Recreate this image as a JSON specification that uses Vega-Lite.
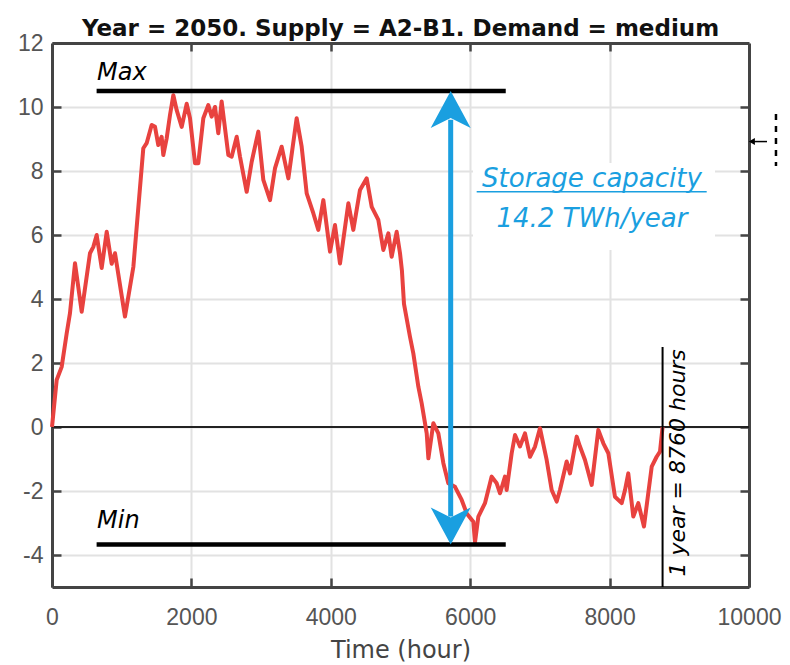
{
  "$schema": "https://vega.github.io/schema/vega-lite/v6.json",
  "width": 697,
  "height": 544,
  "autosize": {"type": "none"},
  "padding": {"left": 52, "top": 43, "right": 41, "bottom": 78},
  "background": "white",
  "title": {"text": "Year = 2050. Supply = A2-B1. Demand = medium", "font": "DejaVu Sans", "fontSize": 23, "fontWeight": "bold", "color": "#111111", "anchor": "middle", "offset": -9},
  "config": {"view": {"stroke": null}},
  "datasets": {
    "series": [
      {"hour": 0, "value": 0}, {"hour": 67, "value": 1.47}, {"hour": 139, "value": 1.88}, {"hour": 211, "value": 2.93},
      {"hour": 258, "value": 3.56}, {"hour": 330, "value": 5.12}, {"hour": 426, "value": 3.6}, {"hour": 545, "value": 5.43},
      {"hour": 593, "value": 5.63}, {"hour": 641, "value": 6.0}, {"hour": 713, "value": 4.97}, {"hour": 785, "value": 6.1},
      {"hour": 856, "value": 5.1}, {"hour": 904, "value": 5.43}, {"hour": 1047, "value": 3.45}, {"hour": 1167, "value": 5.0},
      {"hour": 1310, "value": 8.71}, {"hour": 1358, "value": 8.87}, {"hour": 1430, "value": 9.44}, {"hour": 1478, "value": 9.38},
      {"hour": 1525, "value": 8.81}, {"hour": 1573, "value": 9.07}, {"hour": 1597, "value": 8.5}, {"hour": 1645, "value": 9.02},
      {"hour": 1693, "value": 9.75}, {"hour": 1741, "value": 10.37}, {"hour": 1789, "value": 9.9}, {"hour": 1861, "value": 9.38},
      {"hour": 1932, "value": 10.1}, {"hour": 1980, "value": 9.65}, {"hour": 2052, "value": 8.24}, {"hour": 2099, "value": 8.24},
      {"hour": 2171, "value": 9.65}, {"hour": 2243, "value": 10.06}, {"hour": 2291, "value": 9.7}, {"hour": 2339, "value": 10.0},
      {"hour": 2386, "value": 9.18}, {"hour": 2434, "value": 10.17}, {"hour": 2530, "value": 8.5}, {"hour": 2578, "value": 8.45},
      {"hour": 2650, "value": 9.07}, {"hour": 2697, "value": 8.45},
      {"hour": 2793, "value": 7.35}, {"hour": 2865, "value": 8.29}, {"hour": 2960, "value": 9.23}, {"hour": 3032, "value": 7.72},
      {"hour": 3128, "value": 7.09}, {"hour": 3199, "value": 8.08}, {"hour": 3295, "value": 8.76}, {"hour": 3391, "value": 7.77},
      {"hour": 3510, "value": 9.65}, {"hour": 3582, "value": 8.76}, {"hour": 3654, "value": 7.3}, {"hour": 3749, "value": 6.68},
      {"hour": 3821, "value": 6.16}, {"hour": 3893, "value": 7.09}, {"hour": 3989, "value": 5.48}, {"hour": 4060, "value": 6.31},
      {"hour": 4132, "value": 5.11}, {"hour": 4252, "value": 6.99}, {"hour": 4323, "value": 6.16}, {"hour": 4419, "value": 7.41},
      {"hour": 4515, "value": 7.77}, {"hour": 4587, "value": 6.88}, {"hour": 4682, "value": 6.47}, {"hour": 4754, "value": 5.53},
      {"hour": 4826, "value": 6.05}, {"hour": 4873, "value": 5.32}, {"hour": 4945, "value": 6.1}, {"hour": 4993, "value": 5.43},
      {"hour": 5020, "value": 4.9}, {"hour": 5050, "value": 3.85}, {"hour": 5136, "value": 2.82}, {"hour": 5184, "value": 2.3},
      {"hour": 5256, "value": 1.26}, {"hour": 5304, "value": 0.74}, {"hour": 5376, "value": -0.2}, {"hour": 5400, "value": -0.98},
      {"hour": 5471, "value": 0.12}, {"hour": 5543, "value": -0.2}, {"hour": 5615, "value": -1.13}, {"hour": 5686, "value": -1.76},
      {"hour": 5782, "value": -1.87}, {"hour": 5878, "value": -2.28}, {"hour": 5950, "value": -2.7}, {"hour": 6045, "value": -2.96},
      {"hour": 6069, "value": -3.6}, {"hour": 6117, "value": -2.8}, {"hour": 6212, "value": -2.38}, {"hour": 6308, "value": -1.55},
      {"hour": 6380, "value": -1.76}, {"hour": 6428, "value": -2.07}, {"hour": 6499, "value": -1.55}, {"hour": 6523, "value": -1.97},
      {"hour": 6595, "value": -0.82}, {"hour": 6643, "value": -0.25}, {"hour": 6714, "value": -0.61}, {"hour": 6786, "value": -0.2},
      {"hour": 6858, "value": -0.93}, {"hour": 6930, "value": -0.61}, {"hour": 7001, "value": -0.04}, {"hour": 7097, "value": -1.03},
      {"hour": 7169, "value": -1.97}, {"hour": 7241, "value": -2.33}, {"hour": 7288, "value": -1.97}, {"hour": 7384, "value": -1.08},
      {"hour": 7432, "value": -1.45}, {"hour": 7528, "value": -0.3}, {"hour": 7575, "value": -0.61}, {"hour": 7647, "value": -1.03},
      {"hour": 7743, "value": -1.81}, {"hour": 7838, "value": -0.09}, {"hour": 7910, "value": -0.51}, {"hour": 7982, "value": -0.82},
      {"hour": 8077, "value": -2.18}, {"hour": 8173, "value": -2.38}, {"hour": 8221, "value": -1.97}, {"hour": 8268, "value": -1.45},
      {"hour": 8340, "value": -2.8}, {"hour": 8412, "value": -2.38}, {"hour": 8493, "value": -3.11}, {"hour": 8604, "value": -1.24},
      {"hour": 8675, "value": -0.93}, {"hour": 8723, "value": -0.77}, {"hour": 8760, "value": 0}
    ],
    "levels": [{"start": 640, "end": 6510, "value": 10.5}, {"start": 640, "end": 6510, "value": -3.67}],
    "annot": [{"label": "Max", "hour": 646, "value": 10.84}, {"label": "Min", "hour": 646, "value": -3.16}],
    "blueText": [{"label": "Storage capacity", "hour": 7747, "value": 7.5}, {"label": "14.2 TWh/year", "hour": 7747, "value": 6.25}],
    "yearLine": [{"hour": 8760, "top": 2.5, "bottom": -5}],
    "yearText": [{"label": "1 year = 8760 hours", "hour": 8981, "value": -1.12}],
    "shaft": [{"hour": 5720, "top": 9.6, "bottom": -2.8}],
    "headUp": [{"hour": 5720, "value": 10.5}],
    "headDown": [{"hour": 5720, "value": -3.67}],
    "box": [{"x1": 6040, "x2": 9512, "y1": 8.25, "y2": 5.53}],
    "underline": [{"start": 6093, "end": 9393, "value": 7.35}],
    "bracket": [{"hour": 10387, "top": 9.78, "bottom": 8.16}],
    "pointer": [{"start": 10040, "end": 10258, "value": 8.92}]
  },
  "layer": [
    {
      "data": {"name": "series"},
      "mark": {"type": "rule", "color": "#222222", "strokeWidth": 1.2},
      "encoding": {
        "y": {"datum": 0, "type": "quantitative", "scale": {"domain": [-5, 12], "nice": false}, "axis": null}
      }
    },
    {
      "data": {"name": "series"},
      "mark": {"type": "line", "color": "#E8423F", "strokeWidth": 4, "strokeJoin": "round"},
      "encoding": {
        "x": {"field": "hour", "type": "quantitative", "scale": {"domain": [0, 10000], "nice": false},
          "axis": {"orient": "bottom", "values": [0, 2000, 4000, 6000, 8000, 10000], "grid": true, "gridColor": "#e2e2e2", "gridWidth": 2,
            "domainColor": "#444444", "domainWidth": 3, "tickColor": "#444444", "tickWidth": 2.5, "tickSize": -9,
            "labelPadding": 28, "labelFlush": false, "labelOverlap": false, "labelExpr": "'' + datum.value",
            "labelFont": "Liberation Sans", "labelFontSize": 23, "labelColor": "#555555",
            "title": "Time (hour)", "titleFont": "DejaVu Sans", "titleFontSize": 24, "titleFontWeight": "normal", "titleColor": "#444444", "titlePadding": 9}},
        "y": {"field": "value", "type": "quantitative", "scale": {"domain": [-5, 12], "nice": false},
          "axis": {"orient": "left", "values": [-4, -2, 0, 2, 4, 6, 8, 10, 12], "grid": true, "gridColor": "#e2e2e2", "gridWidth": 2,
            "domainColor": "#444444", "domainWidth": 3, "tickColor": "#444444", "tickWidth": 2.5, "tickSize": -9,
            "labelPadding": 18, "labelFlush": false, "labelOverlap": false, "labelExpr": "'' + datum.value",
            "labelFont": "Liberation Sans", "labelFontSize": 23, "labelColor": "#555555", "title": null}}
      }
    },
    {
      "data": {"name": "levels"},
      "mark": {"type": "rule", "color": "#000000", "strokeWidth": 4.5},
      "encoding": {
        "x": {"field": "start", "type": "quantitative", "scale": {"domain": [0, 10000], "nice": false},
          "axis": {"orient": "top", "values": [2000, 4000, 6000, 8000], "grid": false, "labels": false, "title": null,
            "domainColor": "#444444", "domainWidth": 3, "tickColor": "#444444", "tickWidth": 2.5, "tickSize": -8}},
        "x2": {"field": "end"},
        "y": {"field": "value", "type": "quantitative", "scale": {"domain": [-5, 12], "nice": false},
          "axis": {"orient": "right", "values": [-4, -2, 0, 2, 4, 6, 8, 10], "grid": false, "labels": false, "title": null,
            "domainColor": "#444444", "domainWidth": 3, "tickColor": "#444444", "tickWidth": 2.5, "tickSize": -9}}
      }
    },
    {
      "data": {"name": "yearLine"},
      "mark": {"type": "rule", "color": "#000000", "strokeWidth": 2},
      "encoding": {
        "x": {"field": "hour", "type": "quantitative", "scale": {"domain": [0, 10000], "nice": false}, "axis": null},
        "y": {"field": "top", "type": "quantitative", "scale": {"domain": [-5, 12], "nice": false}, "axis": null},
        "y2": {"field": "bottom"}
      }
    },
    {
      "data": {"name": "box"},
      "mark": {"type": "rect", "color": "white", "opacity": 1},
      "encoding": {
        "x": {"field": "x1", "type": "quantitative", "scale": {"domain": [0, 10000], "nice": false}, "axis": null},
        "x2": {"field": "x2"},
        "y": {"field": "y1", "type": "quantitative", "scale": {"domain": [-5, 12], "nice": false}, "axis": null},
        "y2": {"field": "y2"}
      }
    },
    {
      "data": {"name": "shaft"},
      "mark": {"type": "rule", "color": "#1A9FE0", "strokeWidth": 5},
      "encoding": {
        "x": {"field": "hour", "type": "quantitative", "scale": {"domain": [0, 10000], "nice": false}, "axis": null},
        "y": {"field": "top", "type": "quantitative", "scale": {"domain": [-5, 12], "nice": false}, "axis": null},
        "y2": {"field": "bottom"}
      }
    },
    {
      "data": {"name": "headUp"},
      "mark": {"type": "point", "shape": "M0,0 L1,1.85 L0,1.35 L-1,1.85 Z", "size": 1600, "filled": true, "color": "#1A9FE0", "opacity": 1, "strokeWidth": 0},
      "encoding": {
        "x": {"field": "hour", "type": "quantitative", "scale": {"domain": [0, 10000], "nice": false}, "axis": null},
        "y": {"field": "value", "type": "quantitative", "scale": {"domain": [-5, 12], "nice": false}, "axis": null}
      }
    },
    {
      "data": {"name": "headDown"},
      "mark": {"type": "point", "shape": "M0,0 L1,-1.85 L0,-1.35 L-1,-1.85 Z", "size": 1600, "filled": true, "color": "#1A9FE0", "opacity": 1, "strokeWidth": 0},
      "encoding": {
        "x": {"field": "hour", "type": "quantitative", "scale": {"domain": [0, 10000], "nice": false}, "axis": null},
        "y": {"field": "value", "type": "quantitative", "scale": {"domain": [-5, 12], "nice": false}, "axis": null}
      }
    },
    {
      "data": {"name": "blueText"},
      "mark": {"type": "text", "font": "DejaVu Sans", "fontStyle": "italic", "fontSize": 26, "color": "#1A9FE0", "align": "center", "baseline": "alphabetic"},
      "encoding": {
        "x": {"field": "hour", "type": "quantitative", "scale": {"domain": [0, 10000], "nice": false}, "axis": null},
        "y": {"field": "value", "type": "quantitative", "scale": {"domain": [-5, 12], "nice": false}, "axis": null},
        "text": {"field": "label"}
      }
    },
    {
      "data": {"name": "underline"},
      "mark": {"type": "rule", "color": "#1A9FE0", "strokeWidth": 1.5},
      "encoding": {
        "x": {"field": "start", "type": "quantitative", "scale": {"domain": [0, 10000], "nice": false}, "axis": null},
        "x2": {"field": "end"},
        "y": {"field": "value", "type": "quantitative", "scale": {"domain": [-5, 12], "nice": false}, "axis": null}
      }
    },
    {
      "data": {"name": "annot"},
      "mark": {"type": "text", "font": "DejaVu Sans", "fontStyle": "italic", "fontSize": 24, "color": "#000000", "align": "left", "baseline": "alphabetic"},
      "encoding": {
        "x": {"field": "hour", "type": "quantitative", "scale": {"domain": [0, 10000], "nice": false}, "axis": null},
        "y": {"field": "value", "type": "quantitative", "scale": {"domain": [-5, 12], "nice": false}, "axis": null},
        "text": {"field": "label"}
      }
    },
    {
      "data": {"name": "yearText"},
      "mark": {"type": "text", "font": "DejaVu Sans", "fontStyle": "italic", "fontSize": 22, "color": "#000000", "align": "center", "baseline": "middle", "angle": 270},
      "encoding": {
        "x": {"field": "hour", "type": "quantitative", "scale": {"domain": [0, 10000], "nice": false}, "axis": null},
        "y": {"field": "value", "type": "quantitative", "scale": {"domain": [-5, 12], "nice": false}, "axis": null},
        "text": {"field": "label"}
      }
    },
    {
      "data": {"name": "bracket"},
      "mark": {"type": "rule", "color": "#000000", "strokeWidth": 2.5, "strokeDash": [6, 6]},
      "encoding": {
        "x": {"field": "hour", "type": "quantitative", "scale": {"domain": [0, 10000], "nice": false}, "axis": null},
        "y": {"field": "top", "type": "quantitative", "scale": {"domain": [-5, 12], "nice": false}, "axis": null},
        "y2": {"field": "bottom"}
      }
    },
    {
      "data": {"name": "pointer"},
      "mark": {"type": "rule", "color": "#000000", "strokeWidth": 1.5},
      "encoding": {
        "x": {"field": "start", "type": "quantitative", "scale": {"domain": [0, 10000], "nice": false}, "axis": null},
        "x2": {"field": "end"},
        "y": {"field": "value", "type": "quantitative", "scale": {"domain": [-5, 12], "nice": false}, "axis": null}
      }
    },
    {
      "data": {"name": "pointer"},
      "mark": {"type": "point", "shape": "triangle-left", "size": 50, "filled": true, "color": "#000000", "opacity": 1},
      "encoding": {
        "x": {"field": "start", "type": "quantitative", "scale": {"domain": [0, 10000], "nice": false}, "axis": null},
        "y": {"field": "value", "type": "quantitative", "scale": {"domain": [-5, 12], "nice": false}, "axis": null}
      }
    }
  ],
  "resolve": {"axis": {"x": "independent", "y": "independent"}}
}
